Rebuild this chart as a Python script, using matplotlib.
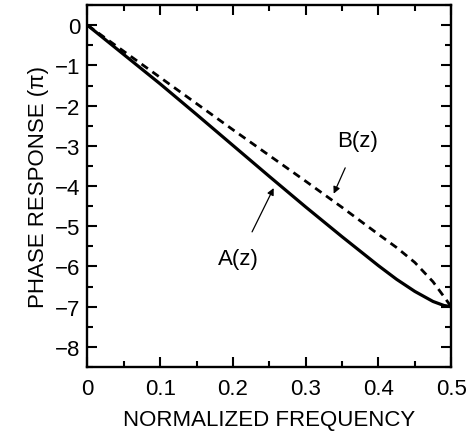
import matplotlib
matplotlib.use("Agg")
import matplotlib.pyplot as plt
from matplotlib.ticker import MultipleLocator

plt.rcParams['font.family'] = ['Liberation Sans', 'DejaVu Sans']

# normalized frequency and phase (in units of pi)
freq = [0, 0.05, 0.1, 0.15, 0.2, 0.25, 0.3, 0.35, 0.4, 0.425, 0.45, 0.475, 0.49, 0.5]
phase_a = [0, -0.73, -1.46, -2.22, -2.99, -3.76, -4.52, -5.26, -5.98, -6.32,
           -6.62, -6.87, -6.97, -7.0]
phase_b = [0, -0.65, -1.3, -1.95, -2.6, -3.24, -3.88, -4.53, -5.2, -5.53,
           -5.9, -6.38, -6.75, -7.0]

xticks = [0, 0.1, 0.2, 0.3, 0.4, 0.5]
xticklabels = ['0', '0.1', '0.2', '0.3', '0.4', '0.5']
yticks = [0, -1, -2, -3, -4, -5, -6, -7, -8]

fig = plt.figure(figsize=(4.7, 4.35), dpi=100)
ax = fig.add_axes([0.186, 0.154, 0.774, 0.832])

ax.plot(freq, phase_a, color='black', lw=2.3, solid_capstyle='butt')
ax.plot(freq, phase_b, color='black', lw=2.0, dashes=(2.8, 2.0))

ax.set_xlim(0, 0.5)
ax.set_ylim(-8.5, 0.5)
ax.set_xticks(xticks)
ax.set_xticklabels(xticklabels)
ax.set_yticks(yticks)
ax.xaxis.set_minor_locator(MultipleLocator(0.05))
ax.yaxis.set_minor_locator(MultipleLocator(0.5))
ax.tick_params(which='both', direction='in', top=True, right=True,
               labelsize=16, width=1.5)
ax.tick_params(axis='x', which='both', pad=8)
ax.tick_params(axis='y', which='both', pad=5)
ax.tick_params(which='major', length=7)
ax.tick_params(which='minor', length=4)
for s in ax.spines.values():
    s.set_linewidth(1.7)

ax.set_xlabel('NORMALIZED FREQUENCY', fontsize=16, labelpad=7)
ax.set_ylabel('PHASE RESPONSE (\u03c0)', fontsize=16, labelpad=4)

ax.annotate('B(z)', xy=(0.3385, -4.19), xytext=(0.371, -2.87),
            ha='center', va='center', fontsize=16,
            arrowprops=dict(arrowstyle='-|>', color='black', lw=0.9,
                            mutation_scale=10, shrinkA=11, shrinkB=0))
ax.annotate('A(z)', xy=(0.256, -4.05), xytext=(0.208, -5.81),
            ha='center', va='center', fontsize=16,
            arrowprops=dict(arrowstyle='-|>', color='black', lw=0.9,
                            mutation_scale=10, shrinkA=11, shrinkB=0))

fig.savefig('out.png', dpi=100)
